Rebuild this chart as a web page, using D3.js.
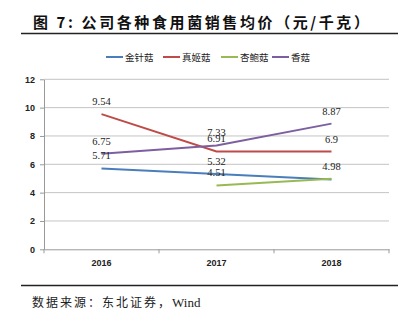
<!DOCTYPE html>
<html>
<head>
<meta charset="utf-8">
<script src="https://cdn.jsdelivr.net/npm/d3@7"></script>
<style>
  body { margin: 0; background: #fff; }
  svg { display: block; }
</style>
</head>
<body>
<svg id="chart"></svg>
<script>
// price data (yuan/kg)
const years = ["2016", "2017", "2018"];
const seriesNames = ["金针菇", "真姬菇", "杏鲍菇", "香菇"];
const jinzhengu = [5.71, 5.32, 4.93];
const zhenjigu = [9.54, 6.91, 6.9];
const xingbaogu = [null, 4.51, 4.98];
const xianggu = [6.75, 7.33, 8.87];
// which points carry a value label
const labelShown = [[true, true, false], [true, true, true], [false, true, true], [true, true, true]];
const yTicks = [0, 2, 4, 6, 8, 10, 12];
const colors = ["#4a7ebb", "#be4b48", "#98b954", "#7d5fa0"];

const allSeries = [jinzhengu, zhenjigu, xingbaogu, xianggu];

let width = 410;
let height = 322;
let margin = { top: 79.3, bottom: 72.7, left: 44, right: 21 };

let svg = d3.select('#chart')
    .attr('width', width)
    .attr('height', height)
    .style('background', '#FFFFFF');

// title + rules
svg.append('text')
    .attr('x', 33)
    .attr('y', 28)
    .style('font-family', '"Noto Sans CJK SC", sans-serif')
    .style('font-size', '15px')
    .style('font-weight', 'bold')
    .style('letter-spacing', '2.6px')
    .style('white-space', 'pre')
    .style('fill', '#111')
    .text('图 7: 公司各种食用菌销售均价（元/千克）');

svg.append('line')
    .attr('x1', 21).attr('x2', 398)
    .attr('y1', 33.5).attr('y2', 33.5)
    .attr('stroke', '#222').attr('stroke-width', 1.3);

svg.append('line')
    .attr('x1', 21).attr('x2', 398)
    .attr('y1', 285.5).attr('y2', 285.5)
    .attr('stroke', '#222').attr('stroke-width', 1.3);

let source = svg.append('text')
    .attr('x', 32)
    .attr('y', 307)
    .style('font-family', '"Noto Sans CJK SC", sans-serif')
    .style('font-size', '12px')
    .style('fill', '#222');
source.append('tspan')
    .style('letter-spacing', '2px')
    .text('数据来源：东北证券，');
source.append('tspan')
    .style('font-family', '"Liberation Serif", serif')
    .style('font-size', '13px')
    .text('Wind');

let xScale = d3.scaleBand()
    .domain(years)
    .range([margin.left, width - margin.right]);

let yScale = d3.scaleLinear()
    .domain([0, 12])
    .range([height - margin.bottom, margin.top]);

// gridlines
svg.append('g')
    .selectAll('line')
    .data(yTicks.slice(1))
    .enter()
    .append('line')
    .attr('x1', margin.left)
    .attr('x2', width - margin.right)
    .attr('y1', d => yScale(d))
    .attr('y2', d => yScale(d))
    .attr('stroke', '#c4c4c4')
    .attr('stroke-width', 1);

// y axis
let yAxis = svg.append('g')
    .attr('transform', `translate(${margin.left}, 0)`)
    .call(d3.axisLeft(yScale).tickValues(yTicks).tickSize(4).tickPadding(5).tickSizeOuter(0));

// x axis, ticks sit between categories
let xAxis = svg.append('g')
    .attr('transform', `translate(0, ${height - margin.bottom})`)
    .call(d3.axisBottom(xScale).tickSize(0).tickPadding(10).tickSizeOuter(0));

xAxis.selectAll('.bandTick')
    .data(d3.range(years.length + 1))
    .enter()
    .append('line')
    .attr('class', 'bandTick')
    .attr('x1', i => margin.left + i * xScale.step())
    .attr('x2', i => margin.left + i * xScale.step())
    .attr('y1', 0)
    .attr('y2', 4)
    .attr('stroke', '#999');

[xAxis, yAxis].forEach(ax => {
    ax.select('.domain').attr('stroke', '#999');
    ax.selectAll('.tick line').attr('stroke', '#999');
    ax.selectAll('text')
        .style('font-family', '"Liberation Sans", sans-serif')
        .style('font-size', '9px')
        .style('font-weight', 'bold')
        .style('fill', '#222');
});

// series lines
const line = d3.line()
    .defined(d => d.v !== null)
    .x(d => xScale(d.year) + xScale.bandwidth() / 2)
    .y(d => yScale(d.v));

allSeries.forEach((vals, si) => {
    const pts = vals.map((v, i) => ({ year: years[i], v: v }));
    svg.append('path')
        .datum(pts)
        .attr('fill', 'none')
        .attr('stroke', colors[si])
        .attr('stroke-width', 2)
        .attr('d', line);
});

// value labels
allSeries.forEach((vals, si) => {
    const pts = vals.map((v, i) => ({ year: years[i], v: v, show: labelShown[si][i] }))
        .filter(d => d.v !== null && d.show);
    svg.append('g')
        .selectAll('text')
        .data(pts)
        .enter()
        .append('text')
        .attr('x', d => xScale(d.year) + xScale.bandwidth() / 2)
        .attr('y', d => yScale(d.v) - 9)
        .attr('text-anchor', 'middle')
        .style('font-family', '"Liberation Serif", serif')
        .style('font-size', '10.5px')
        .style('fill', '#222')
        .text(d => d.v);
});

// legend
let legend = svg.append('g')
    .attr('class', 'legend')
    .attr('transform', 'translate(106, 57)');

const legendX = [0, 57, 115, 166];
seriesNames.forEach((name, i) => {
    legend.append('line')
        .attr('x1', legendX[i]).attr('x2', legendX[i] + 17)
        .attr('y1', 0).attr('y2', 0)
        .attr('stroke', colors[i])
        .attr('stroke-width', 2);
    legend.append('text')
        .attr('x', legendX[i] + 19)
        .attr('y', 3.5)
        .style('font-family', '"Noto Sans CJK SC", sans-serif')
        .style('font-size', '9.5px')
        .style('fill', '#222')
        .text(name);
});
</script>
</body>
</html>
